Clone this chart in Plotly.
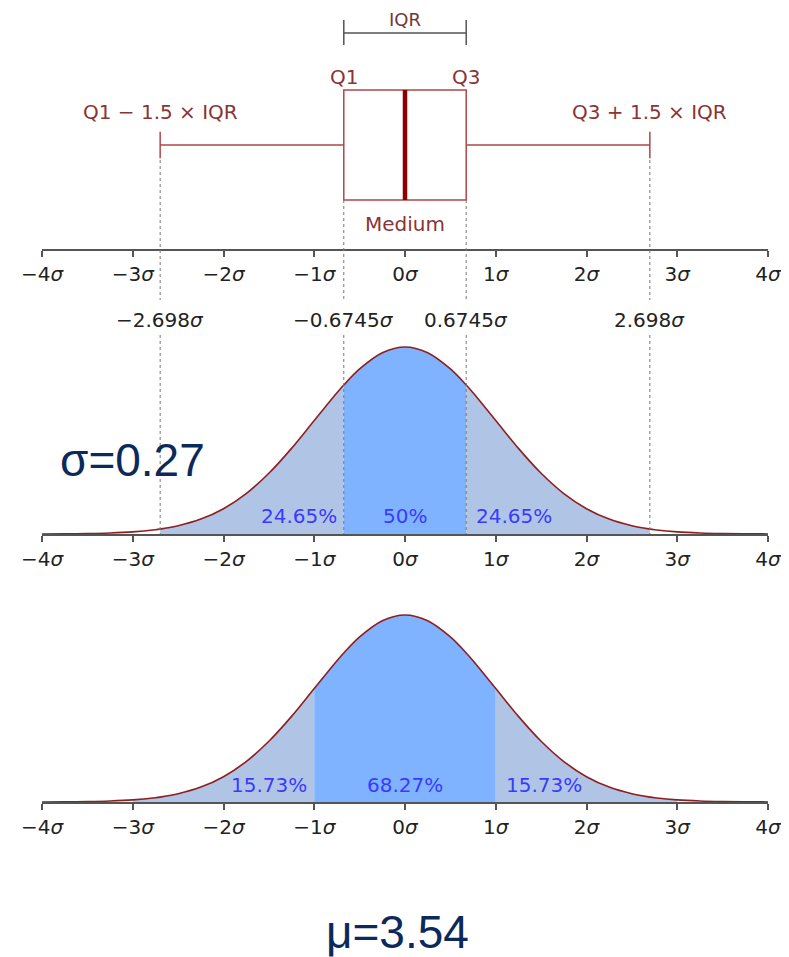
import plotly.graph_objects as go

W, H = 789, 957

# ---------------- data ----------------
tick_vals = [-4, -3, -2, -1, 0, 1, 2, 3, 4]
tick_labels = ["−4<i>σ</i>", "−3<i>σ</i>", "−2<i>σ</i>", "−1<i>σ</i>", "0<i>σ</i>",
               "1<i>σ</i>", "2<i>σ</i>", "3<i>σ</i>", "4<i>σ</i>"]

# box-plot statistics (in sigma units)
q1, median, q3 = -0.6745, 0.0, 0.6745
lower_fence, upper_fence = -2.698, 2.698
threshold_vals = [-2.698, -0.6745, 0.6745, 2.698]
threshold_labels = ["−2.698<i>σ</i>", "−0.6745<i>σ</i>", "0.6745<i>σ</i>", "2.698<i>σ</i>"]

# normal density read at sample points
curve_x = [-4.0, -3.75, -3.5, -3.25, -3.0, -2.75, -2.698, -2.5, -2.25, -2.0, -1.75, -1.5,
           -1.25, -1.0, -0.75, -0.6745, -0.5, -0.25, 0.0, 0.25, 0.5, 0.6745, 0.75, 1.0,
           1.25, 1.5, 1.75, 2.0, 2.25, 2.5, 2.698, 2.75, 3.0, 3.25, 3.5, 3.75, 4.0]
curve_y = [0.000134, 0.000353, 0.000873, 0.002029, 0.004432, 0.009094, 0.010477, 0.017528,
           0.031740, 0.053991, 0.086277, 0.129518, 0.182649, 0.241971, 0.301137, 0.317777,
           0.352065, 0.386668, 0.398942, 0.386668, 0.352065, 0.317777, 0.301137, 0.241971,
           0.182649, 0.129518, 0.086277, 0.053991, 0.031740, 0.017528, 0.010477, 0.009094,
           0.004432, 0.002029, 0.000873, 0.000353, 0.000134]

iqr_bounds = [-2.698, -0.6745, 0.6745, 2.698]
iqr_pct = ["24.65%", "50%", "24.65%"]
sd_bounds = [-3.0, -1.0, 1.0, 3.0]
sd_pct = ["15.73%", "68.27%", "15.73%"]

sigma_text = "σ=0.27"
mu_text = "μ=3.54"

# ---------------- styles ----------------
LIGHT = "#b0c5e6"
BRIGHT = "#80b3ff"
CURVE = "#8e1f1f"
BOXC = "#b04848"
TXT_RED = "#8a3434"
PCT = "#3a3aff"
AXC = "#555555"
NAVY = "#0b2a5b"
FONT = "DejaVu Sans"
FS = 20

OFF = 8          # page body offset
L, R = 34, 29    # margins


def py(px):
    return 1 - (px - OFF) / H


def pxx(px):
    return (px - OFF - L) / (W - L - R)


fig = go.Figure()

# ---------- panel 1 : box plot ----------
fig.add_trace(go.Box(
    orientation="h", y=[0], q1=[q1], median=[median], q3=[q3],
    lowerfence=[lower_fence], upperfence=[upper_fence],
    width=1, whiskerwidth=0.24, fillcolor="white",
    line=dict(color=BOXC, width=1.5), boxpoints=False,
    xaxis="x", yaxis="y", showlegend=False, hoverinfo="skip"))
fig.add_trace(go.Scatter(
    x=[median, median], y=[-0.5, 0.5], mode="lines",
    line=dict(color="#8b0000", width=4.5), xaxis="x", yaxis="y",
    showlegend=False, hoverinfo="skip"))
# IQR bracket
fig.add_trace(go.Scatter(
    x=[q1, q3, None, q1, q1, None, q3, q3],
    y=[1.018, 1.018, None, 0.909, 1.136, None, 0.909, 1.136],
    mode="lines", line=dict(color=AXC, width=1.5), xaxis="x", yaxis="y",
    showlegend=False, hoverinfo="skip"))


def add_density(xa, ya, bounds):
    lo, a, b, hi = bounds
    segs = [(lo, a, LIGHT), (a, b, BRIGHT), (b, hi, LIGHT)]
    for s, e, c in segs:
        xs = [x for x in curve_x if s - 1e-9 <= x <= e + 1e-9]
        ys = [curve_y[curve_x.index(x)] for x in xs]
        fig.add_trace(go.Scatter(
            x=xs, y=ys, mode="lines", fill="tozeroy", fillcolor=c,
            line=dict(width=0, shape="spline", smoothing=1.0),
            xaxis=xa, yaxis=ya, showlegend=False, hoverinfo="skip"))
    fig.add_trace(go.Scatter(
        x=curve_x, y=curve_y, mode="lines",
        line=dict(color=CURVE, width=1.6, shape="spline", smoothing=1.0),
        xaxis=xa, yaxis=ya, showlegend=False, hoverinfo="skip"))


add_density("x2", "y2", iqr_bounds)
add_density("x3", "y3", sd_bounds)

# ---------- dotted guide lines ----------
shapes = []
for v in threshold_vals:
    top = 160 if abs(v) > 1.5 else 200
    for a, b in [(top, 300), (335, 534)]:
        shapes.append(dict(type="line", xref="x", yref="paper", x0=v, x1=v,
                           y0=py(a), y1=py(b), layer="above",
                           line=dict(color="#777777", width=1, dash="dot")))

# ---------- annotations ----------
ann = []
lab_font = dict(family=FONT, size=FS, color=TXT_RED)
ann.append(dict(x=(q1 + q3) / 2, y=1.138, xref="x", yref="y", text="IQR",
                showarrow=False, font=dict(family=FONT, size=FS - 2, color="#6e3a3a")))
ann.append(dict(x=q1, y=0.618, xref="x", yref="y", text="Q1", showarrow=False, font=lab_font))
ann.append(dict(x=q3, y=0.618, xref="x", yref="y", text="Q3", showarrow=False, font=lab_font))
ann.append(dict(x=lower_fence, y=0.30, xref="x", yref="y", text="Q1 − 1.5 × IQR",
                showarrow=False, font=lab_font))
ann.append(dict(x=upper_fence, y=0.30, xref="x", yref="y", text="Q3 + 1.5 × IQR",
                showarrow=False, font=lab_font))
ann.append(dict(x=median, y=-0.718, xref="x", yref="y", text="Medium",
                showarrow=False, font=lab_font))

for v, t in zip(threshold_vals, threshold_labels):
    ann.append(dict(x=v, y=py(320), xref="x", yref="paper", text=t, showarrow=False,
                    xanchor="center", yanchor="middle",
                    font=dict(family=FONT, size=FS, color="#222222")))

pct_font = dict(family=FONT, size=FS, color=PCT)
for (bnds, labs, yref, yv) in [(iqr_bounds, iqr_pct, "y2", 0.038), (sd_bounds, sd_pct, "y3", 0.036)]:
    ann.append(dict(x=bnds[1], y=yv, xref="x", yref=yref, text=labs[0], showarrow=False,
                    xanchor="right", xshift=-5, font=pct_font))
    ann.append(dict(x=(bnds[1] + bnds[2]) / 2, y=yv, xref="x", yref=yref, text=labs[1],
                    showarrow=False, font=pct_font))
    ann.append(dict(x=bnds[2], y=yv, xref="x", yref=yref, text=labs[2], showarrow=False,
                    xanchor="left", xshift=8, font=pct_font))

ann.append(dict(x=pxx(133), y=py(460), xref="paper", yref="paper", text=sigma_text,
                xanchor="center", yanchor="middle", showarrow=False,
                font=dict(family="Liberation Sans", size=46, color=NAVY)))
ann.append(dict(x=pxx(397), y=py(932), xref="paper", yref="paper", text=mu_text,
                xanchor="center", yanchor="middle", showarrow=False,
                font=dict(family="Liberation Sans", size=46, color=NAVY)))

xcommon = dict(range=[-4, 4], tickvals=tick_vals, ticktext=tick_labels, showline=True,
               linecolor=AXC, linewidth=1.5, ticks="outside", ticklen=6, tickwidth=1.5,
               tickcolor=AXC, tickfont=dict(family=FONT, size=FS, color="#222222"),
               showgrid=False, zeroline=False, fixedrange=True)
ycommon = dict(visible=False, showgrid=False, zeroline=False, fixedrange=True)

fig.update_layout(
    width=W, height=H, margin=dict(l=L, r=R, t=0, b=0),
    paper_bgcolor="white", plot_bgcolor="rgba(0,0,0,0)",
    xaxis=dict(**xcommon, anchor="y"),
    xaxis2=dict(**xcommon, anchor="y2"),
    xaxis3=dict(**xcommon, anchor="y3"),
    yaxis=dict(**ycommon, domain=[py(249), 1], range=[-(249 - 145) / 110, (145 - OFF) / 110],
               anchor="x"),
    yaxis2=dict(**ycommon, domain=[py(534), py(290)], range=[0, 0.5205], anchor="x2"),
    yaxis3=dict(**ycommon, domain=[py(802), py(560)], range=[0, 0.5162], anchor="x3"),
    shapes=shapes, annotations=ann, showlegend=False,
)

fig.write_html("out.html")
